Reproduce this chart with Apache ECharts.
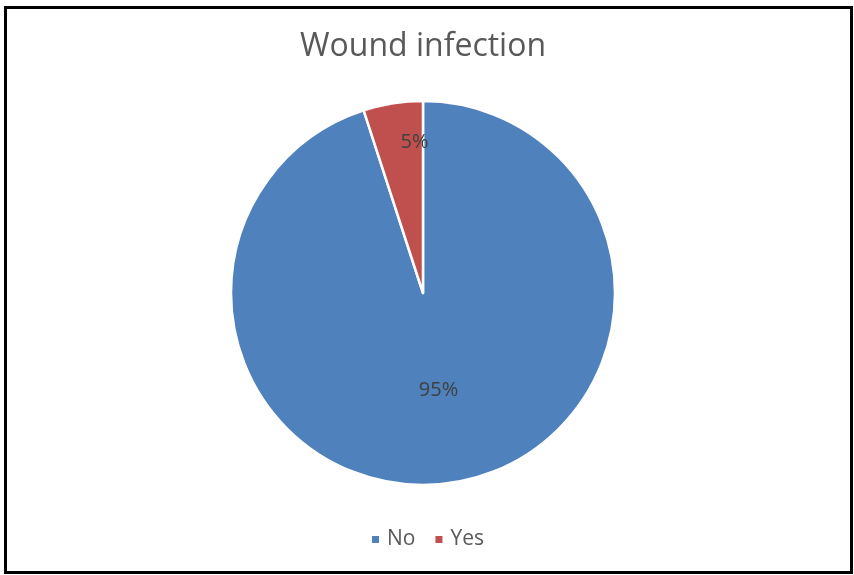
<!DOCTYPE html>
<html><head><meta charset="utf-8">
<script src="https://cdn.jsdelivr.net/npm/echarts@6/dist/echarts.min.js"></script>
<style>
html,body{margin:0;padding:0;background:#fff;}
#frame{position:absolute;left:4px;top:6px;width:843px;height:562px;border:3px solid #000;}
#c{position:absolute;left:0;top:0;width:854px;height:575px;}
</style></head>
<body>
<div id="frame"></div>
<div id="c"></div>
<script>
const categories = ['No', 'Yes'];
const values = [95, 5];
const colors = ['#4F81BD', '#C0504D'];

const chart = echarts.init(document.getElementById('c'), null, {renderer: 'canvas'});
chart.setOption({
  animation: false,
  title: {
    text: 'Wound infection', left: 295, top: 26,
    textStyle: {fontFamily: 'Open Sans', fontSize: 32, fontWeight: 'normal', color: '#595959'}
  },
  legend: {
    bottom: 20, left: 'center', itemWidth: 9, itemHeight: 9, itemGap: 18,
    icon: 'rect',
    textStyle: {fontFamily: 'Open Sans', fontSize: 21, color: '#595959', padding: [0,0,0,2]},
    data: categories
  },
  series: [{
    type: 'pie',
    center: [423, 293],
    radius: 192,
    startAngle: 90,
    clockwise: true,
    itemStyle: {borderColor: '#fff', borderWidth: 2.5},
    label: {
      show: true, position: 'inside',
      formatter: function(p){ return p.value + '%'; },
      fontFamily: 'Open Sans', fontSize: 20, color: '#404040'
    },
    labelLayout: function(p){
      if (p.dataIndex === 1) return {dx: 7, dy: -53};
      return {};
    },
    emphasis: {disabled: true},
    data: categories.map((c, i) => ({name: c, value: values[i], itemStyle: {color: colors[i]}}))
  }]
});
</script>
</body></html>
